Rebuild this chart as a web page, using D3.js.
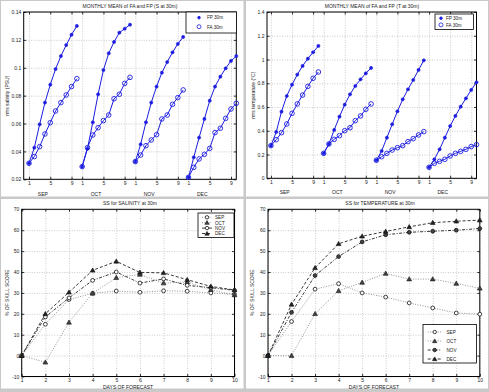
<!DOCTYPE html>
<html>
<head>
<meta charset="utf-8">
<script src="https://cdn.jsdelivr.net/npm/d3@7"></script>
<style>
body { margin: 0; background: #fff; }
svg { display: block; font-family: "Liberation Sans", Arial, sans-serif; }
</style>
</head>
<body>
<div id="chart"></div>
<script>
// Data
// ============================================================================
const months = ["SEP", "OCT", "NOV", "DEC"];
const monthTicks = [1, 5, 9];
const forecastDays = [1, 2, 3, 4, 5, 6, 7, 8, 9, 10];

// rms salinity (PSU), one row per month, days 1..10
const salFP = [
    [0.0315, 0.0427, 0.0594, 0.0750, 0.0879, 0.0991, 0.1084, 0.1163, 0.1237, 0.1300],
    [0.0291, 0.0420, 0.0609, 0.0810, 0.0984, 0.1104, 0.1185, 0.1252, 0.1280, 0.1309],
    [0.0327, 0.0451, 0.0609, 0.0750, 0.0865, 0.0965, 0.1041, 0.1111, 0.1171, 0.1221],
    [0.0214, 0.0358, 0.0499, 0.0633, 0.0764, 0.0865, 0.0936, 0.0996, 0.1049, 0.1084]
];
const salFA = [
    [0.0315, 0.0363, 0.0434, 0.0525, 0.0606, 0.0690, 0.0750, 0.0805, 0.0865, 0.0922],
    [0.0291, 0.0427, 0.0518, 0.0570, 0.0621, 0.0661, 0.0778, 0.0810, 0.0888, 0.0931],
    [0.0327, 0.0374, 0.0441, 0.0482, 0.0520, 0.0633, 0.0661, 0.0738, 0.0786, 0.0841],
    [0.0214, 0.0286, 0.0346, 0.0379, 0.0422, 0.0535, 0.0566, 0.0637, 0.0704, 0.0745]
];

// rms temperature (°C)
const tempFP = [
    [0.275, 0.390, 0.561, 0.693, 0.788, 0.873, 0.946, 1.007, 1.061, 1.114],
    [0.210, 0.289, 0.407, 0.519, 0.620, 0.707, 0.777, 0.833, 0.884, 0.929],
    [0.152, 0.230, 0.342, 0.455, 0.564, 0.665, 0.749, 0.828, 0.912, 0.993],
    [0.093, 0.160, 0.244, 0.342, 0.440, 0.525, 0.603, 0.673, 0.744, 0.808]
];
const tempFA = [
    [0.275, 0.325, 0.384, 0.457, 0.547, 0.626, 0.701, 0.774, 0.842, 0.895],
    [0.210, 0.289, 0.328, 0.359, 0.401, 0.426, 0.485, 0.525, 0.581, 0.626],
    [0.152, 0.182, 0.210, 0.238, 0.258, 0.275, 0.309, 0.334, 0.365, 0.393],
    [0.093, 0.126, 0.143, 0.160, 0.188, 0.210, 0.227, 0.244, 0.267, 0.283]
];

// skill score (%), one row per month
const ssSal = [
    [0, 15.0, 26.8, 29.8, 30.9, 30.3, 31.0, 30.8, 30.0, 29.3],
    [0, -3.2, 15.9, 29.8, 37.3, 38.8, 34.7, 35.2, 31.5, 29.0],
    [0, 18.5, 27.6, 36.0, 40.0, 34.7, 36.7, 33.6, 32.5, 31.2],
    [0, 20.0, 30.3, 40.8, 45.1, 39.8, 39.6, 36.3, 33.1, 31.4]
];
const ssTemp = [
    [0, 16.3, 31.8, 34.4, 30.0, 28.0, 25.2, 22.8, 20.4, 19.8],
    [0, 0.0, 20.0, 31.0, 35.0, 39.3, 36.6, 36.6, 34.5, 32.2],
    [0, 20.7, 38.3, 47.4, 54.4, 57.8, 59.0, 59.5, 60.0, 60.8],
    [0, 24.5, 42.0, 53.5, 57.1, 59.4, 61.6, 63.6, 64.3, 64.8]
];

// Setup
// ============================================================================
const width = 489, height = 392,
    blue = "#1c1ce0";

const svg = d3.select("#chart")
    .append("svg")
        .attr("width", width)
        .attr("height", height);

svg.append("rect")
    .attr("width", width)
    .attr("height", height)
    .attr("fill", "#c9c9c9");

[[1, 1, 242.5, 195.5], [246, 1, 242, 195.5], [1, 199, 242.5, 189.5], [246, 199, 242, 189.5]]
    .forEach(r => {
        svg.append("rect")
            .attr("x", r[0]).attr("y", r[1])
            .attr("width", r[2]).attr("height", r[3])
            .attr("fill", "#fff");
    });

function addText(x, y, txt, opts = {}) {
    return svg.append("text")
        .attr("x", x)
        .attr("y", y)
        .attr("text-anchor", opts.anchor || "middle")
        .attr("transform", opts.rotate ? `rotate(-90,${x},${y})` : null)
        .attr("font-size", opts.size || 5)
        .attr("fill", "#222")
        .text(txt);
}

// grid, inward ticks on all sides, labels, box
function drawAxes(x, y, xTicks, yTicks, xFmt, yFmt, xPad) {
    const [left, right] = x.range(), [bottom, top] = y.range();
    const w = right - left, h = bottom - top;
    const g = svg.append("g");

    const grid = sel => {
        sel.select(".domain").remove();
        sel.selectAll("line")
            .attr("stroke", "#b5b5b5")
            .attr("stroke-width", 0.7)
            .attr("stroke-dasharray", "1,1.5");
    };
    const style = sel => {
        sel.select(".domain").remove();
        sel.selectAll("line").attr("stroke", "#000").attr("stroke-width", 0.8);
        sel.selectAll("text")
            .attr("font-size", 5)
            .attr("fill", "#222")
            .attr("font-family", "Liberation Sans, Arial, sans-serif");
    };

    g.append("g").attr("transform", `translate(0,${bottom})`)
        .call(d3.axisBottom(x).tickValues(xTicks).tickSize(-h).tickFormat(""))
        .call(grid);
    g.append("g").attr("transform", `translate(${left},0)`)
        .call(d3.axisLeft(y).tickValues(yTicks).tickSize(-w).tickFormat(""))
        .call(grid);

    g.append("g").attr("transform", `translate(0,${bottom})`)
        .call(d3.axisBottom(x).tickValues(xTicks).tickSize(-2.5).tickPadding(xPad).tickFormat(xFmt))
        .call(style);
    g.append("g").attr("transform", `translate(0,${top})`)
        .call(d3.axisTop(x).tickValues(xTicks).tickSize(-2.5).tickFormat(""))
        .call(style);
    g.append("g").attr("transform", `translate(${left},0)`)
        .call(d3.axisLeft(y).tickValues(yTicks).tickSize(-2.5).tickPadding(2.5).tickFormat(yFmt))
        .call(style);
    g.append("g").attr("transform", `translate(${right},0)`)
        .call(d3.axisRight(y).tickValues(yTicks).tickSize(-2.5).tickFormat(""))
        .call(style);

    g.append("rect")
        .attr("x", left).attr("y", top)
        .attr("width", w).attr("height", h)
        .attr("fill", "none")
        .attr("stroke", "#000")
        .attr("stroke-width", 1);
}

// Monthly mean panels
// ============================================================================
function monthlyPanel(o) {
    const x = d3.scaleLinear().domain(o.xDomain).range(o.xRange);
    const y = d3.scaleLinear().domain(o.yDomain).range(o.yRange);

    const xTicks = [];
    months.forEach((m, i) => monthTicks.forEach(d => xTicks.push(i * 10 + d)));

    drawAxes(x, y, xTicks, o.yTicks, d => (d - 1) % 10 + 1, o.yFmt, 2);

    months.forEach((m, i) => {
        addText(x(i * 10 + 3.6), o.monthY, m);
    });

    const line = d3.line()
        .x((d, j) => x(d.m * 10 + j + 1))
        .y(d => y(d.v));

    [[o.fa, "open"], [o.fp, "dot"]].forEach(([series, kind]) => {
        series.forEach((vals, i) => {
            const pts = vals.map(v => ({m: i, v: v}));
            svg.append("path")
                .datum(pts)
                .attr("d", line)
                .attr("fill", "none")
                .attr("stroke", blue)
                .attr("stroke-width", 1);
            svg.selectAll(null)
                .data(pts)
                .enter()
                .append("circle")
                    .attr("cx", (d, j) => x(i * 10 + j + 1))
                    .attr("cy", d => y(d.v))
                    .attr("r", kind == "dot" ? 1.6 : 2.3)
                    .attr("fill", kind == "dot" ? blue : "none")
                    .attr("stroke", blue)
                    .attr("stroke-width", kind == "dot" ? 0.5 : 0.9);
        });
    });

    // title and label
    addText(o.titleX, 7.5, o.title);
    addText(o.ylabelX, (o.yRange[0] + o.yRange[1]) / 2, o.ylabel, {rotate: true});

    // legend
    const L = o.legend;
    svg.append("rect")
        .attr("x", L.x).attr("y", L.y)
        .attr("width", L.w).attr("height", L.h)
        .attr("fill", "#fff")
        .attr("stroke", "#000")
        .attr("stroke-width", 0.8);
    [["FP 30m", "dot"], ["FA 30m", "open"]].forEach(([name, kind], k) => {
        const yy = L.y + L.h * (k == 0 ? 0.27 : 0.7);
        svg.append("circle")
            .attr("cx", L.x + L.mx).attr("cy", yy)
            .attr("r", kind == "dot" ? 1.3 : 2)
            .attr("fill", kind == "dot" ? blue : "none")
            .attr("stroke", blue)
            .attr("stroke-width", 0.8);
        addText(L.x + L.tx, yy + 1.8, name, {anchor: "start", size: 4.6});
    });
}

monthlyPanel({
    xDomain: [0, 40], xRange: [23.7, 236.3],
    yDomain: [0.02, 0.14], yRange: [179.3, 12],
    yTicks: [0.02, 0.04, 0.06, 0.08, 0.1, 0.12, 0.14],
    yFmt: d => String(+d.toFixed(2)),
    fp: salFP, fa: salFA,
    monthY: 195.5,
    title: "MONTHLY MEAN of FA and FP (S at 30m)", titleX: 130,
    ylabel: "rms salinity (PSU)", ylabelX: 9,
    legend: {x: 186, y: 12, w: 50.5, h: 21, mx: 13, tx: 21}
});

monthlyPanel({
    xDomain: [0.25, 40], xRange: [267, 476.5],
    yDomain: [0, 1.4], yRange: [178.3, 12],
    yTicks: [0, 0.2, 0.4, 0.6, 0.8, 1, 1.2, 1.4],
    yFmt: d => String(+d.toFixed(1)),
    fp: tempFP, fa: tempFA,
    monthY: 194,
    title: "MONTHLY MEAN of FA and FP (T at 30m)", titleX: 372,
    ylabel: "rms temperature (°C)", ylabelX: 255,
    legend: {x: 435, y: 14, w: 38.5, h: 15.5, mx: 6, tx: 11}
});

// Skill score panels
// ============================================================================
const ssStyles = [
    {dash: "1,1.5", color: "#888", marker: "circle", fill: "#fff"},
    {dash: "1,1.5", color: "#888", marker: "triangle", fill: "#444"},
    {dash: "3,1.5,1,1.5", color: "#222", marker: "circle", fill: "#fff"},
    {dash: "3,2", color: "#222", marker: "triangle", fill: "#222"}
];

function drawMarker(cx, cy, s, scale) {
    if (s.marker == "circle") {
        svg.append("circle")
            .attr("cx", cx).attr("cy", cy)
            .attr("r", 1.9 * scale)
            .attr("fill", s.fill)
            .attr("stroke", "#111")
            .attr("stroke-width", 0.8);
    } else {
        svg.append("path")
            .attr("transform", `translate(${cx},${cy + 0.4})`)
            .attr("d", d3.symbol(d3.symbolTriangle).size(10 * scale * scale)())
            .attr("fill", s.fill)
            .attr("stroke", "#111")
            .attr("stroke-width", 0.6);
    }
}

function skillPanel(o) {
    const x = d3.scaleLinear().domain([1, 10]).range(o.xRange);
    const y = d3.scaleLinear().domain([-10, 70]).range([376.5, 209.3]);

    drawAxes(x, y, forecastDays, d3.range(-10, 71, 10), d => d, d => d, 1.8);

    const line = d3.line()
        .x((d, j) => x(forecastDays[j]))
        .y(d => y(d));

    o.data.forEach((vals, i) => {
        const s = o.styles[i];
        svg.append("path")
            .datum(vals)
            .attr("d", line)
            .attr("fill", "none")
            .attr("stroke", s.color)
            .attr("stroke-width", 0.9)
            .attr("stroke-dasharray", s.dash);
        vals.forEach((v, j) => drawMarker(x(forecastDays[j]), y(v), s, 1));
    });

    addText(o.titleX, 205, o.title);
    addText((o.xRange[0] + o.xRange[1]) / 2, 388.6, "DAYS OF FORECAST");
    addText(o.ylabelX, 292.7, "% OF SKILL SCORE", {rotate: true});

    // legend
    const L = o.legend;
    svg.append("rect")
        .attr("x", L.x).attr("y", L.y)
        .attr("width", L.w).attr("height", L.h)
        .attr("fill", "#fff")
        .attr("stroke", "#000")
        .attr("stroke-width", 0.8);
    months.forEach((m, k) => {
        const s = o.styles[k];
        const yy = L.y + L.y0 + k * L.dy;
        svg.append("line")
            .attr("x1", L.x + L.mx - L.ml).attr("x2", L.x + L.mx + L.ml)
            .attr("y1", yy).attr("y2", yy)
            .attr("stroke", s.color)
            .attr("stroke-width", 0.9)
            .attr("stroke-dasharray", s.dash);
        drawMarker(L.x + L.mx, yy, s, 0.9);
        addText(L.x + L.tx, yy + 1.8, m, {anchor: "start", size: 4.6});
    });
}

skillPanel({
    xRange: [21.7, 234.5],
    data: ssSal,
    styles: ssStyles,
    title: "SS for SALINITY at 30m", titleX: 130,
    ylabelX: 9,
    legend: {x: 198, y: 213, w: 36, h: 24.5, y0: 4.3, dy: 5.4, mx: 9, ml: 5, tx: 17}
});

skillPanel({
    xRange: [268, 479.8],
    data: ssTemp,
    styles: [ssStyles[0], ssStyles[1],
        {dash: "3,1.5,1,1.5", color: "#222", marker: "circle", fill: "#444"}, ssStyles[3]],
    title: "SS for TEMPERATURE at 30m", titleX: 380,
    ylabelX: 254,
    legend: {x: 423, y: 324.5, w: 53.5, h: 38.5, y0: 7.5, dy: 9, mx: 11.7, ml: 7, tx: 23.5}
});
</script>
</body>
</html>
